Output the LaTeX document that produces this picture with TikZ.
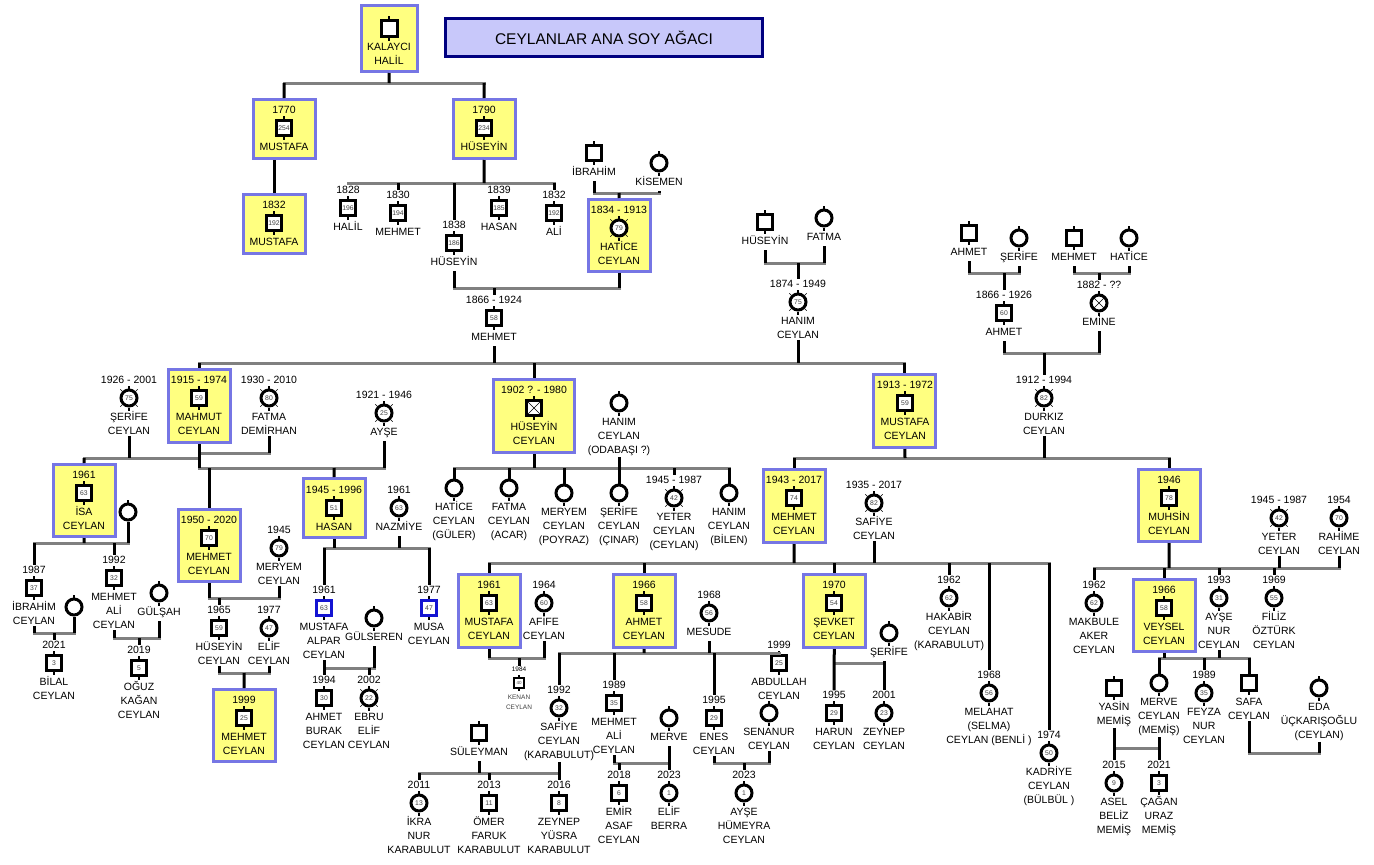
\documentclass[tikz,border=0pt]{standalone}
\usepackage{fontspec}
\setmainfont{Liberation Sans}
\definecolor{boxyellow}{RGB}{255,255,128}
\definecolor{boxblue}{RGB}{118,118,228}
\definecolor{ttlfill}{RGB}{200,200,250}
\definecolor{ttlblue}{RGB}{0,0,128}
\definecolor{bargray}{RGB}{128,128,128}
\definecolor{sqblue}{RGB}{20,20,210}
\newcommand{\lbfont}{\fontsize{10.5}{14}\selectfont}
\newcommand{\numfont}{\fontsize{6.8}{7}\selectfont}
\newcommand{\smfont}{\fontsize{6.5}{10}\selectfont}
\tikzset{
  male/.style={draw, line width=3pt, fill=white, minimum size=15pt, inner sep=0pt, font=\numfont, text=black!75},
  female/.style={male, circle, minimum size=16pt},
  maleblue/.style={male, draw=sqblue},
  crossx/.style={path picture={\draw[line width=0.6pt, black]
      (path picture bounding box.north west) -- (path picture bounding box.south east)
      (path picture bounding box.north east) -- (path picture bounding box.south west);}},
  malex/.style={male, crossx},
  femalex/.style={female, crossx},
  yr/.style={inner sep=0pt, outer sep=1pt, font=\lbfont},
  lbl/.style={anchor=north, align=center, inner sep=0pt, outer sep=1pt, font=\lbfont},
  ybox/.style={draw=boxblue, fill=boxyellow, line width=3pt, minimum width=62pt, minimum height=72pt, inner sep=0pt},
  ttl/.style={draw=ttlblue, fill=ttlfill, line width=3pt, minimum width=317pt, minimum height=38pt, font=\fontsize{15.5}{18}\selectfont},
  stub/.style={line width=2pt},
  dectick/.style={line width=0.6pt},
  stem/.style={line width=3pt, black},
  bar/.style={line width=3pt, bargray, line cap=rect},
}
% symbol, year above, name below
\newcommand{\pers}[7]{%
  \node[#4] (#1) at (#2,#3) {#5};
  \draw[stub] (#1.north) -- ++(0,-3) (#1.south) -- ++(0,3);
  \if\relax\detokenize{#6}\relax\else
    \node[yr] (#1y) at (#2,#3-18) {#6};\fi
  \if\relax\detokenize{#7}\relax\else
    \node[lbl] (#1n) at (#2,#3+12) {\strut #7};\fi}
\newcommand{\deceased}[1]{%
  \draw[dectick] (#1.45) -- ++(2,-2) (#1.135) -- ++(-2,-2)
    (#1.-45) -- ++(2,2) (#1.-135) -- ++(-2,2);}
\begin{document}
\begin{tikzpicture}[x=1pt,y=-1pt]
  \fill[white] (0,0) rectangle (1374,865);
  \useasboundingbox (0,0) rectangle (1374,865);
  \node[ttl] (title) at (604,37.5) {CEYLANLAR ANA SOY AĞACI};
  % boxes
  \node[ybox, minimum width=56pt, minimum height=66pt] (bHalil) at (389.5,38.5) {};
  \node[ybox, minimum height=59pt] (b1770) at (284.5,129) {};
  \node[ybox, minimum height=59pt] (b1790) at (484.5,129) {};
  \node[ybox, minimum height=59pt] (b1832) at (274.5,224) {};
  \node[ybox] (bHatice) at (619.5,235.5) {};
  \node[ybox, minimum height=73pt] (bMahmut) at (199.5,406) {};
  \node[ybox, minimum width=81pt, minimum height=73pt] (bHuseyin2) at (534,416) {};
  \node[ybox, minimum height=73pt] (bMustafa13) at (904.5,411) {};
  \node[ybox] (bIsa) at (84.5,500.5) {};
  \node[ybox] (bMehmet50) at (209.5,545.5) {};
  \node[ybox, minimum height=59pt] (bHasan) at (334.5,508) {};
  \node[ybox, minimum height=73pt] (bMehmet43) at (794.5,506) {};
  \node[ybox] (bMuhsin) at (1169.5,505.5) {};
  \node[ybox, minimum height=73pt] (bMustafa61) at (489.5,611) {};
  \node[ybox, minimum height=73pt] (bAhmet66) at (644.5,611) {};
  \node[ybox, minimum height=73pt] (bSevket) at (834.5,611) {};
  \node[ybox] (bVeysel) at (1164.5,615.5) {};
  \node[ybox] (bMehmet99) at (244.5,725.5) {};
  % persons
  \pers{pHalil}{389}{28}{male, minimum size=16pt}{}{}{KALAYCI\\HALİL}
  \pers{p1770}{284}{128}{male}{254}{1770}{MUSTAFA}
  \pers{p1790}{484}{128}{male}{234}{1790}{HÜSEYİN}
  \pers{p1832}{274}{223}{male}{192}{1832}{MUSTAFA}
  \pers{cHalil}{348}{208}{male}{196}{1828}{HALİL}
  \pers{cMehmet}{398}{213}{male}{194}{1830}{MEHMET}
  \pers{cHuseyin}{454}{243}{male}{186}{1838}{HÜSEYİN}
  \pers{cHasan}{499}{208}{male}{185}{1839}{HASAN}
  \pers{cAli}{554}{213}{male}{192}{1832}{ALİ}
  \pers{pIbrahim}{594}{153}{male}{}{}{İBRAHİM}
  \pers{pKisemen}{659}{163}{female}{}{}{KİSEMEN}
  \pers{pHatice}{619}{228}{female}{79}{1834 - 1913}{HATİCE\\CEYLAN}
  \pers{pMehmet}{494}{318}{male}{58}{1866 - 1924}{MEHMET}
  \pers{hHuseyin}{765}{222}{male}{}{}{HÜSEYİN}
  \pers{hFatma}{824}{218}{female}{}{}{FATMA}
  \pers{pHanim}{798}{302}{female}{75}{1874 - 1949}{HANIM\\CEYLAN}
  \pers{gAhmet}{969}{233}{male}{}{}{AHMET}
  \pers{gSerife}{1019}{238}{female}{}{}{ŞERİFE}
  \pers{gMehmet}{1074}{238}{male}{}{}{MEHMET}
  \pers{gHatice}{1129}{238}{female}{}{}{HATİCE}
  \pers{pAhmet}{1004}{313}{male}{60}{1866 - 1926}{AHMET}
  \pers{pEmine}{1099}{303}{femalex}{}{1882 - ??}{EMİNE}
  \pers{pDurkiz}{1044}{398}{female}{82}{1912 - 1994}{DURKIZ\\CEYLAN}
  \pers{pMahmut}{199}{398}{male}{59}{1915 - 1974}{MAHMUT\\CEYLAN}
  \pers{wSerife}{129}{398}{female}{75}{1926 - 2001}{ŞERİFE\\CEYLAN}
  \pers{wFatma}{269}{398}{female}{80}{1930 - 2010}{FATMA\\DEMİRHAN}
  \pers{wAyse}{384}{413}{female}{25}{1921 - 1946}{AYŞE}
  \pers{pHuseyin}{534}{408}{malex}{}{1902 ? - 1980}{HÜSEYİN\\CEYLAN}
  \pers{wHanim}{619}{403}{female}{}{}{HANIM\\CEYLAN\\(ODABAŞI ?)}
  \pers{pMustafa}{905}{403}{male}{59}{1913 - 1972}{MUSTAFA\\CEYLAN}
  \pers{pIsa}{84}{493}{male}{63}{1961}{İSA\\CEYLAN}
  \pers{wIsa}{128}{512}{female}{}{}{}
  \pers{pIbrahim2}{34}{588}{male}{37}{1987}{İBRAHİM\\CEYLAN}
  \pers{wIbrahim}{74}{607}{female}{}{}{}
  \pers{pBilal}{54}{663}{male}{3}{2021}{BİLAL\\CEYLAN}
  \pers{pMehmetAli}{114}{578}{male}{32}{1992}{MEHMET\\ALİ\\CEYLAN}
  \pers{wGulsah}{159}{593}{female}{}{}{GÜLŞAH}
  \pers{pOguz}{139}{668}{male}{5}{2019}{OĞUZ\\KAĞAN\\CEYLAN}
  \pers{pMehmet50}{209}{538}{male}{70}{1950 - 2020}{MEHMET\\CEYLAN}
  \pers{wMeryem}{279}{548}{female}{79}{1945}{MERYEM\\CEYLAN}
  \pers{pHuseyin65}{219}{628}{male}{59}{1965}{HÜSEYİN\\CEYLAN}
  \pers{pElif77}{269}{628}{female}{47}{1977}{ELİF\\CEYLAN}
  \pers{pMehmet99}{244}{718}{male}{25}{1999}{MEHMET\\CEYLAN}
  \pers{pHasan}{334}{508}{male}{51}{1945 - 1996}{HASAN}
  \pers{wNazmiye}{399}{508}{female}{63}{1961}{NAZMİYE}
  \pers{pAlpar}{324}{608}{maleblue}{63}{1961}{MUSTAFA\\ALPAR\\CEYLAN}
  \pers{wGulseren}{374}{618}{female}{}{}{GÜLSEREN}
  \pers{pBurak}{324}{698}{male}{30}{1994}{AHMET\\BURAK\\CEYLAN}
  \pers{pEbru}{369}{698}{female}{22}{2002}{EBRU\\ELİF\\CEYLAN}
  \pers{pMusa}{429}{608}{maleblue}{47}{1977}{MUSA\\CEYLAN}
  \pers{dHatice}{454}{488}{female}{}{}{HATİCE\\CEYLAN\\(GÜLER)}
  \pers{dFatma}{509}{488}{female}{}{}{FATMA\\CEYLAN\\(ACAR)}
  \pers{dMeryem}{564}{493}{female}{}{}{MERYEM\\CEYLAN\\(POYRAZ)}
  \pers{dSerife}{619}{493}{female}{}{}{ŞERİFE\\CEYLAN\\(ÇINAR)}
  \pers{dYeter}{674}{498}{female}{42}{1945 - 1987}{YETER\\CEYLAN\\(CEYLAN)}
  \pers{dHanim}{729}{493}{female}{}{}{HANIM\\CEYLAN\\(BİLEN)}
  \pers{pMehmet43}{794}{498}{male}{74}{1943 - 2017}{MEHMET\\CEYLAN}
  \pers{wSafiye}{874}{503}{female}{82}{1935 - 2017}{SAFİYE\\CEYLAN}
  \pers{pMuhsin}{1169}{498}{male}{78}{1946}{MUHSİN\\CEYLAN}
  \pers{wYeter}{1279}{518}{female}{42}{1945 - 1987}{YETER\\CEYLAN}
  \pers{wRahime}{1339}{518}{female}{70}{1954}{RAHİME\\CEYLAN}
  \pers{pMustafa61}{489}{603}{male}{63}{1961}{MUSTAFA\\CEYLAN}
  \pers{wAfife}{544}{603}{female}{60}{1964}{AFİFE\\CEYLAN}
  \pers{pAhmet66}{644}{603}{male}{58}{1966}{AHMET\\CEYLAN}
  \pers{wMesude}{709}{613}{female}{56}{1968}{MESUDE}
  \pers{pSafiye92}{559}{708}{female}{32}{1992}{SAFİYE\\CEYLAN\\(KARABULUT)}
  \pers{hSuleyman}{479}{733}{male}{}{}{SÜLEYMAN}
  \pers{kIkra}{419}{803}{female}{13}{2011}{İKRA\\NUR\\KARABULUT}
  \pers{kOmer}{489}{803}{male}{11}{2013}{ÖMER\\FARUK\\KARABULUT}
  \pers{kZeynep}{559}{803}{male}{8}{2016}{ZEYNEP\\YÜSRA\\KARABULUT}
  \pers{pMehmetAli89}{614}{703}{male}{35}{1989}{MEHMET\\ALİ\\CEYLAN}
  \pers{wMerve}{669}{718}{female}{}{}{MERVE}
  \pers{kEmir}{619}{793}{male}{6}{2018}{EMİR\\ASAF\\CEYLAN}
  \pers{kElif}{669}{793}{female}{1}{2023}{ELİF\\BERRA}
  \pers{pEnes}{714}{718}{male}{29}{1995}{ENES\\CEYLAN}
  \pers{wSenanur}{769}{713}{female}{}{}{SENANUR\\CEYLAN}
  \pers{kAyse}{744}{793}{female}{1}{2023}{AYŞE\\HÜMEYRA\\CEYLAN}
  \pers{pAbdullah}{779}{663}{male}{25}{1999}{ABDULLAH\\CEYLAN}
  \pers{pSevket}{834}{603}{male}{54}{1970}{ŞEVKET\\CEYLAN}
  \pers{wSerife2}{889}{633}{female}{}{}{ŞERİFE}
  \pers{kHarun}{834}{713}{male}{29}{1995}{HARUN\\CEYLAN}
  \pers{kZeynep2}{884}{713}{female}{23}{2001}{ZEYNEP\\CEYLAN}
  \pers{pHakabir}{949}{598}{female}{62}{1962}{HAKABİR\\CEYLAN\\(KARABULUT)}
  \pers{pMelahat}{989}{693}{female}{56}{1968}{MELAHAT\\(SELMA)\\CEYLAN (BENLİ )}
  \pers{pKadriye}{1049}{753}{female}{50}{1974}{KADRİYE\\CEYLAN\\(BÜLBÜL )}
  \pers{pMakbule}{1094}{603}{female}{62}{1962}{MAKBULE\\AKER\\CEYLAN}
  \pers{pVeysel}{1164}{608}{male}{58}{1966}{VEYSEL\\CEYLAN}
  \pers{pAyseNur}{1219}{598}{female}{31}{1993}{AYŞE\\NUR\\CEYLAN}
  \pers{pFiliz}{1274}{598}{female}{55}{1969}{FİLİZ\\ÖZTÜRK\\CEYLAN}
  \pers{pMerve}{1159}{683}{female}{}{}{MERVE\\CEYLAN\\(MEMİŞ)}
  \pers{pFeyza}{1204}{693}{female}{35}{1989}{FEYZA\\NUR\\CEYLAN}
  \pers{pSafa}{1249}{683}{male}{}{}{SAFA\\CEYLAN}
  \pers{hYasin}{1114}{688}{male}{}{}{YASİN\\MEMİŞ}
  \pers{wEda}{1319}{688}{female}{}{}{EDA\\ÜÇKARIŞOĞLU\\(CEYLAN)}
  \pers{kAsel}{1114}{783}{female}{9}{2015}{ASEL\\BELİZ\\MEMİŞ}
  \pers{kCagan}{1159}{783}{male}{3}{2021}{ÇAĞAN\\URAZ\\MEMİŞ}
  \node[male, line width=2pt, minimum size=10pt, font=\fontsize{4.5}{5}\selectfont] (pKenan) at (519,683) {40};
  \draw[stub, line width=1.5pt] (pKenan.north) -- ++(0,-2) (pKenan.south) -- ++(0,2);
  \node[yr, font=\smfont] (pKenany) at (519,669) {1984};
  \node[lbl, font=\smfont, text=black!75] (pKenann) at (519,691) {\strut KENAN\\CEYLAN};
  \deceased{pHatice} \deceased{pHanim} \deceased{pDurkiz} \deceased{wSerife}
  \deceased{wFatma} \deceased{wAyse} \deceased{dYeter} \deceased{wSafiye}
  \deceased{wYeter} \deceased{pEbru}
  % junctions
  \coordinate (jHalil) at (389,83);
  \coordinate (jHus) at (484,183);
  \coordinate (jIbr) at (619,193);
  \coordinate (jMeh) at (494,288);
  \coordinate (jHan) at (798,263);
  \coordinate (jMain) at (494,363);
  \coordinate (jAhm) at (1004,273);
  \coordinate (jEmi) at (1099,273);
  \coordinate (jDur) at (1044,353);
  \coordinate (jIsa) at (84,458);
  \coordinate (jFat) at (209,453);
  \coordinate (jAys) at (334,468);
  \coordinate (jIsaK) at (84,543);
  \coordinate (jBil) at (54,633);
  \coordinate (jOgu) at (139,638);
  \coordinate (jMer) at (244,598);
  \coordinate (jM99) at (244,673);
  \coordinate (jHas) at (374,548);
  \coordinate (jAlp) at (349,668);
  \coordinate (jHus2) at (534,468);
  \coordinate (jMus) at (905,458);
  \coordinate (jM43) at (794,563);
  \coordinate (jKen) at (519,658);
  \coordinate (jAhm66) at (644,653);
  \coordinate (jSaf) at (489,773);
  \coordinate (jMa) at (644,763);
  \coordinate (jEn) at (744,763);
  \coordinate (jSev) at (859,663);
  \coordinate (jMuh) at (1169,568);
  \coordinate (jVey) at (1204,658);
  \coordinate (jYas) at (1137,748);
  \coordinate (jSafa) at (1284,753);
  \begin{scope}[bar]
    \draw (p1770 |- jHalil) -- (p1790 |- jHalil);
    \draw (cHalil |- jHus) -- (cAli |- jHus);
    \draw (pIbrahim |- jIbr) -- (pKisemen |- jIbr);
    \draw (cHuseyin |- jMeh) -- (bHatice |- jMeh);
    \draw (hHuseyin |- jHan) -- (hFatma |- jHan);
    \draw (bMahmut |- jMain) -- (bMustafa13 |- jMain);
    \draw (gAhmet |- jAhm) -- (gSerife |- jAhm);
    \draw (gMehmet |- jEmi) -- (gHatice |- jEmi);
    \draw (pAhmet |- jDur) -- (pEmine |- jDur);
    \draw (bIsa |- jIsa) -- (bMahmut |- jIsa);
    \draw (bMahmut |- jFat) -- (wFatma |- jFat);
    \draw (bMahmut |- jAys) -- (wAyse |- jAys);
    \draw (pIbrahim2 |- jIsaK) -- (wIsa |- jIsaK);
    \draw (pIbrahim2 |- jBil) -- (wIbrahim |- jBil);
    \draw (pMehmetAli |- jOgu) -- (wGulsah |- jOgu);
    \draw (bMehmet50 |- jMer) -- (wMeryem |- jMer);
    \draw (pHuseyin65 |- jM99) -- (pElif77 |- jM99);
    \draw (pAlpar |- jHas) -- (pMusa |- jHas);
    \draw (pAlpar |- jAlp) -- (wGulseren |- jAlp);
    \draw (dHatice |- jHus2) -- (dHanim |- jHus2);
    \draw (bMehmet43 |- jMus) -- (bMuhsin |- jMus);
    \draw (bMustafa61 |- jM43) -- (pKadriye |- jM43);
    \draw (bMustafa61 |- jKen) -- (wAfife |- jKen);
    \draw (pSafiye92 |- jAhm66) -- (pAbdullah |- jAhm66);
    \draw (kIkra |- jSaf) -- (pSafiye92 |- jSaf);
    \draw (pMehmetAli89 |- jMa) -- (wMerve |- jMa);
    \draw (pEnes |- jEn) -- (wSenanur |- jEn);
    \draw (bSevket |- jSev) -- (kZeynep2 |- jSev);
    \draw (pMakbule |- jMuh) -- (wRahime |- jMuh);
    \draw (pMerve |- jVey) -- (pSafa |- jVey);
    \draw (hYasin |- jYas) -- (pMerve |- jYas);
    \draw (pSafa |- jSafa) -- (wEda |- jSafa);
  \end{scope}
  \begin{scope}[stem]
    \draw (bHalil) -- (jHalil);
    \draw (p1770 |- jHalil) -- (b1770);
    \draw (p1790 |- jHalil) -- (b1790);
    \draw (b1832) -- (b1832 |- b1770.south);
    \draw (b1790) -- (jHus);
    \draw (cMehmet |- jHus) -- (cMehmety);
    \draw (cHuseyin |- jHus) -- (cHuseyiny);
    \draw (cAli |- jHus) -- (cAliy);
    \draw (pIbrahimn) -- (pIbrahimn |- jIbr);
    \draw (pKisemenn) -- (pKisemenn |- jIbr);
    \draw (jIbr) -- (bHatice);
    \draw (cHuseyinn) -- (cHuseyinn |- jMeh);
    \draw (bHatice) -- (bHatice |- jMeh);
    \draw (jMeh) -- (pMehmety);
    \draw (hHuseyinn) -- (hHuseyinn |- jHan);
    \draw (hFatman) -- (hFatman |- jHan);
    \draw (jHan) -- (pHanimy);
    \draw (pMehmetn) -- (jMain);
    \draw (pHanimn) -- (pHanimn |- jMain);
    \draw (bMahmut |- jMain) -- (bMahmut);
    \draw (bHuseyin2 |- jMain) -- (bHuseyin2);
    \draw (bMustafa13 |- jMain) -- (bMustafa13);
    \draw (gAhmetn) -- (gAhmetn |- jAhm);
    \draw (gSerifen) -- (gSerifen |- jAhm);
    \draw (jAhm) -- (pAhmety);
    \draw (gMehmetn) -- (gMehmetn |- jEmi);
    \draw (gHaticen) -- (gHaticen |- jEmi);
    \draw (jEmi) -- (pEminey);
    \draw (pAhmetn) -- (pAhmetn |- jDur);
    \draw (pEminen) -- (pEminen |- jDur);
    \draw (jDur) -- (pDurkizy);
    \draw (wSerifen) -- (wSerifen |- jIsa);
    \draw (jIsa) -- (bIsa);
    \draw (wFatman) -- (wFatman |- jFat);
    \draw (wAysen) -- (wAysen |- jAys);
    \draw (bMahmut) -- (bMahmut |- jAys);
    \draw (bMehmet50 |- jAys) -- (bMehmet50);
    \draw (jAys) -- (bHasan);
    \draw (bIsa) -- (jIsaK);
    \draw (wIsa) -- (wIsa |- jIsaK);
    \draw (pIbrahim2 |- jIsaK) -- (pIbrahim2y);
    \draw (pMehmetAli |- jIsaK) -- (pMehmetAliy);
    \draw (pIbrahim2n) -- (pIbrahim2n |- jBil);
    \draw (wIbrahim) -- (wIbrahim |- jBil);
    \draw (jBil) -- (pBilaly);
    \draw (pMehmetAlin) -- (pMehmetAlin |- jOgu);
    \draw (wGulsahn) -- (wGulsahn |- jOgu);
    \draw (jOgu) -- (pOguzy);
    \draw (bMehmet50) -- (bMehmet50 |- jMer);
    \draw (wMeryemn) -- (wMeryemn |- jMer);
    \draw (pHuseyin65 |- jMer) -- (pHuseyin65y);
    \draw (pHuseyin65n) -- (pHuseyin65n |- jM99);
    \draw (pElif77n) -- (pElif77n |- jM99);
    \draw (jM99) -- (bMehmet99);
    \draw (bHasan) -- (bHasan |- jHas);
    \draw (wNazmiyen) -- (wNazmiyen |- jHas);
    \draw (pAlpar |- jHas) -- (pAlpary);
    \draw (pMusa |- jHas) -- (pMusay);
    \draw (pAlparn) -- (pAlparn |- jAlp);
    \draw (wGulserenn) -- (wGulserenn |- jAlp);
    \draw (pBurak |- jAlp) -- (pBuraky);
    \draw (pEbru |- jAlp) -- (pEbruy);
    \draw (bHuseyin2) -- (jHus2);
    \draw (wHanimn) -- (wHanimn |- jHus2);
    \draw (dHatice |- jHus2) -- (dHatice);
    \draw (dFatma |- jHus2) -- (dFatma);
    \draw (dMeryem |- jHus2) -- (dMeryem);
    \draw (dSerife |- jHus2) -- (dSerife);
    \draw (dYeter |- jHus2) -- (dYetery);
    \draw (dHanim |- jHus2) -- (dHanim);
    \draw (bMustafa13) -- (jMus);
    \draw (pDurkizn) -- (pDurkizn |- jMus);
    \draw (bMehmet43 |- jMus) -- (bMehmet43);
    \draw (bMuhsin |- jMus) -- (bMuhsin);
    \draw (bMehmet43) -- (jM43);
    \draw (wSafiyen) -- (wSafiyen |- jM43);
    \draw (bMustafa61 |- jM43) -- (bMustafa61);
    \draw (bAhmet66 |- jM43) -- (bAhmet66);
    \draw (bSevket |- jM43) -- (bSevket);
    \draw (pHakabir |- jM43) -- (pHakabiry);
    \draw (pMelahat |- jM43) -- (pMelahaty);
    \draw (pKadriye |- jM43) -- (pKadriyey);
    \draw (bMustafa61) -- (bMustafa61 |- jKen);
    \draw (wAfifen) -- (wAfifen |- jKen);
    \draw (jKen) -- (pKenany);
    \draw (bAhmet66) -- (jAhm66);
    \draw (wMesuden) -- (wMesuden |- jAhm66);
    \draw (pSafiye92 |- jAhm66) -- (pSafiye92y);
    \draw (pMehmetAli89 |- jAhm66) -- (pMehmetAli89y);
    \draw (pEnes |- jAhm66) -- (pEnesy);
    \draw (hSuleymann) -- (hSuleymann |- jSaf);
    \draw (pSafiye92n) -- (pSafiye92n |- jSaf);
    \draw (kIkra |- jSaf) -- (kIkray);
    \draw (kOmer |- jSaf) -- (kOmery);
    \draw (kZeynep |- jSaf) -- (kZeynepy);
    \draw (pMehmetAli89n) -- (pMehmetAli89n |- jMa);
    \draw (wMerven) -- (wMerven |- jMa);
    \draw (kEmir |- jMa) -- (kEmiry);
    \draw (kElif |- jMa) -- (kElify);
    \draw (pEnesn) -- (pEnesn |- jEn);
    \draw (wSenanurn) -- (wSenanurn |- jEn);
    \draw (jEn) -- (kAysey);
    \draw (bSevket) -- (kHaruny);
    \draw (wSerife2n.south -| kZeynep2) -- (kZeynep2y);
    \draw (bMuhsin) -- (jMuh);
    \draw (wYetern) -- (wYetern |- jMuh);
    \draw (wRahimen) -- (wRahimen |- jMuh);
    \draw (pMakbule |- jMuh) -- (pMakbuley);
    \draw (jMuh -| bVeysel) -- (bVeysel);
    \draw (pAyseNur |- jMuh) -- (pAyseNury);
    \draw (pFiliz |- jMuh) -- (pFilizy);
    \draw (bVeysel) -- (bVeysel |- jVey);
    \draw (pAyseNurn) -- (pAyseNurn |- jVey);
    \draw (pMerve |- jVey) -- (pMerve);
    \draw (pFeyza |- jVey) -- (pFeyzay);
    \draw (pSafa |- jVey) -- (pSafa);
    \draw (hYasinn) -- (hYasinn |- jYas);
    \draw (pMerven) -- (pMerven |- jYas);
    \draw (kAsel |- jYas) -- (kAsely);
    \draw (kCagan |- jYas) -- (kCagany);
    \draw (pSafan) -- (pSafan |- jSafa);
    \draw (wEdan) -- (wEdan |- jSafa);
  \end{scope}
\end{tikzpicture}
\end{document}
